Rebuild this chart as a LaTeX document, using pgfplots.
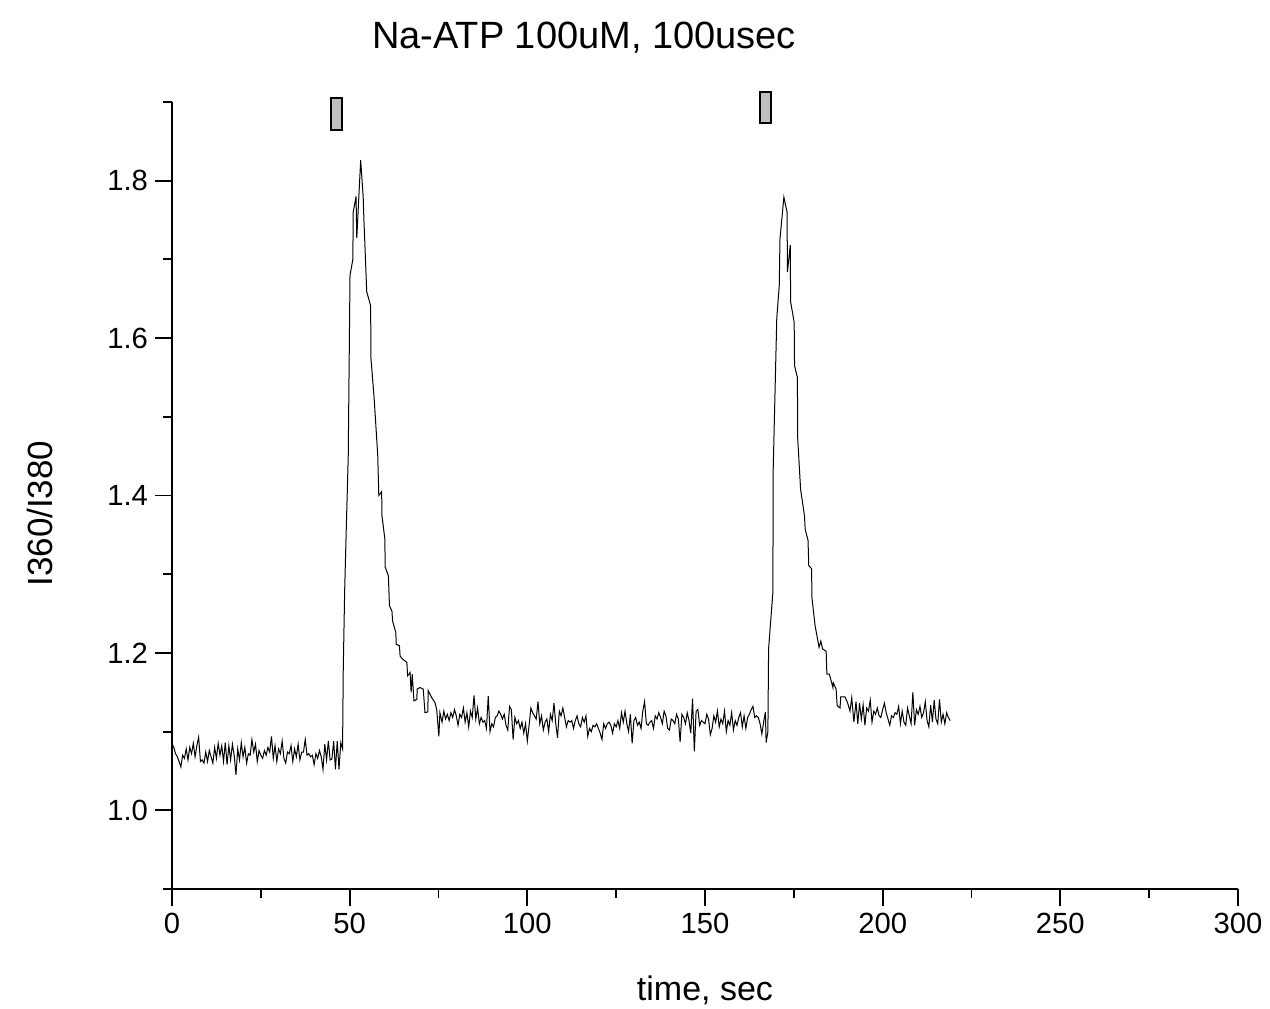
\documentclass[border=0pt]{standalone}
\usepackage{pgfplots}
\pgfplotsset{compat=1.18}
\usepackage{fontspec}
\setmainfont{Liberation Sans}
\begin{document}
\begin{tikzpicture}
\begin{axis}[
  at={(0,0)}, anchor=south west,
  scale only axis, width=533pt, height=393.5pt,
  xmin=0, xmax=300, ymin=0.9, ymax=1.9,
  axis x line*=bottom, axis y line*=left,
  axis line style={line width=0.9pt},
  every tick/.style={black, line width=0.9pt},
  tick align=outside,
  major tick length=8.5pt, minor tick length=4.5pt,
  xtick={0,50,...,300}, minor xtick={25,75,...,275},
  ytick={1.0,1.2,...,1.8}, minor ytick={0.9,1.1,1.3,1.5,1.7,1.9},
  /pgf/number format/assume math mode=true,
  yticklabel style={/pgf/number format/fixed, /pgf/number format/fixed zerofill, /pgf/number format/precision=1},
  tick label style={font=\fontsize{14.6}{17}\selectfont},
  xlabel={time, sec}, ylabel={I360/I380},
  xlabel style={font=\fontsize{17}{20}\selectfont, at={(rel axis cs:0.5,0)}, anchor=center, yshift=-50.5pt},
  ylabel style={font=\fontsize{17.5}{20}\selectfont, at={(rel axis cs:0,0.477)}, anchor=center, yshift=66pt},
  clip=false,
]
\addplot[black, line width=0.5pt] coordinates {
(0.0,1.085) (0.5,1.080) (1.0,1.072) (1.5,1.068) (2.0,1.062) (2.5,1.055) (3.0,1.070) (3.5,1.066) (4.0,1.078) (4.5,1.064)
(5.0,1.080) (5.5,1.072) (6.0,1.085) (6.5,1.068) (7.0,1.082) (7.5,1.093) (8.0,1.062) (8.5,1.064) (9.0,1.060) (9.5,1.074)
(10.0,1.062) (10.5,1.076) (11.0,1.068) (11.5,1.060) (12.0,1.080) (12.5,1.066) (13.0,1.085) (13.5,1.070) (14.0,1.082) (14.5,1.062)
(15.0,1.086) (15.5,1.058) (16.0,1.082) (16.5,1.064) (17.0,1.084) (17.5,1.070) (18.0,1.045) (18.5,1.078) (19.0,1.064) (19.5,1.086)
(20.0,1.068) (20.5,1.080) (21.0,1.060) (21.5,1.072) (22.0,1.070) (22.5,1.090) (23.0,1.074) (23.5,1.084) (24.0,1.062) (24.5,1.076)
(25.0,1.070) (25.5,1.066) (26.0,1.076) (26.5,1.070) (27.0,1.080) (27.5,1.074) (28.0,1.094) (28.5,1.066) (29.0,1.082) (29.5,1.062)
(30.0,1.078) (30.5,1.072) (31.0,1.088) (31.5,1.066) (32.0,1.060) (32.5,1.074) (33.0,1.072) (33.5,1.082) (34.0,1.062) (34.5,1.078)
(35.0,1.068) (35.5,1.084) (36.0,1.064) (36.5,1.074) (37.0,1.074) (37.5,1.090) (38.0,1.070) (38.5,1.072) (39.0,1.068) (39.5,1.070)
(40.0,1.058) (40.5,1.072) (41.0,1.066) (41.5,1.076) (42.0,1.068) (42.5,1.052) (43.0,1.084) (43.5,1.064) (44.0,1.088) (44.5,1.064)
(45.0,1.065) (45.5,1.088) (46.0,1.052) (46.5,1.088) (47.0,1.052) (47.5,1.086) (48.0,1.078)
(48.2,1.180) (48.6,1.280) (49.0,1.350) (49.6,1.450) (50.1,1.680) (50.9,1.700) (51.0,1.760) (51.8,1.780) (52.0,1.727)
(53.1,1.826) (53.8,1.780) (54.0,1.752) (54.8,1.659) (55.9,1.641) (56.0,1.574) (56.9,1.523) (57.9,1.451) (58.2,1.400)
(59.0,1.405) (59.1,1.374) (59.9,1.345) (60.0,1.309) (60.9,1.298) (61.2,1.260) (61.9,1.253) (62.1,1.240) (63.0,1.226)
(63.1,1.211) (64.0,1.209) (64.2,1.196) (64.9,1.192) (66.1,1.188) (66.3,1.171) (67.0,1.175) (67.3,1.150) (67.6,1.173)
(68.1,1.139) (68.9,1.141) (69.0,1.154) (69.8,1.156) (70.7,1.154) (71.2,1.124) (72.0,1.125) (72.1,1.152) (73.1,1.143)
(74.0,1.137) (74.5,1.128) (75.1,1.094) (75.4,1.124)
(76.0,1.112) (76.5,1.126) (77.0,1.116) (77.5,1.122) (78.0,1.114) (78.5,1.124) (79.0,1.118) (79.5,1.128)
(80.0,1.120) (80.5,1.108) (81.0,1.122) (81.5,1.118) (82.0,1.130) (82.5,1.112) (83.0,1.124) (83.5,1.106) (84.0,1.126) (84.5,1.118)
(85.0,1.146) (85.5,1.116) (86.0,1.130) (86.5,1.110) (87.0,1.118) (87.5,1.112) (88.0,1.114) (88.5,1.104) (89.0,1.145) (89.5,1.100)
(90.0,1.110) (90.5,1.106) (91.0,1.118) (91.5,1.120) (92.0,1.126) (92.5,1.122) (93.0,1.116) (93.5,1.122) (94.0,1.108) (94.5,1.102)
(95.0,1.132) (95.5,1.128) (96.0,1.090) (96.5,1.118) (97.0,1.110) (97.5,1.114) (98.0,1.104) (98.5,1.112) (99.0,1.098) (99.5,1.110)
(100.0,1.088) (100.5,1.108) (101.0,1.130) (101.5,1.124) (102.0,1.120) (102.5,1.116) (103.0,1.138) (103.5,1.110) (104.0,1.120) (104.5,1.102)
(105.0,1.112) (105.5,1.116) (106.0,1.100) (106.5,1.122) (107.0,1.114) (107.5,1.136) (108.0,1.110) (108.5,1.092) (109.0,1.126) (109.5,1.120)
(110.0,1.130) (110.5,1.118) (111.0,1.106) (111.5,1.114) (112.0,1.112) (112.5,1.114) (113.0,1.104) (113.5,1.114) (114.0,1.120) (114.5,1.110)
(115.0,1.106) (115.5,1.118) (116.0,1.112) (116.5,1.120) (117.0,1.094) (117.5,1.104) (118.0,1.100) (118.5,1.108) (119.0,1.106) (119.5,1.110)
(120.0,1.104) (120.5,1.098) (121.0,1.090) (121.5,1.110) (122.0,1.104) (122.5,1.110) (123.0,1.112) (123.5,1.108) (124.0,1.098) (124.5,1.110)
(125.0,1.106) (125.5,1.114) (126.0,1.104) (126.5,1.124) (127.0,1.112) (127.5,1.126) (128.0,1.110) (128.5,1.100) (129.0,1.122) (129.5,1.085)
(130.0,1.114) (130.5,1.118) (131.0,1.108) (131.5,1.112) (132.0,1.104) (132.5,1.126) (133.0,1.138) (133.5,1.110) (134.0,1.108) (134.5,1.112)
(135.0,1.114) (135.5,1.104) (136.0,1.120) (136.5,1.116) (137.0,1.124) (137.5,1.118) (138.0,1.110) (138.5,1.126) (139.0,1.120) (139.5,1.104)
(140.0,1.102) (140.5,1.116) (141.0,1.114) (141.5,1.110) (142.0,1.122) (142.5,1.116) (143.0,1.087) (143.5,1.122) (144.0,1.118) (144.5,1.110)
(145.0,1.124) (145.5,1.114) (146.0,1.098) (146.5,1.142) (147.0,1.075) (147.5,1.126) (148.0,1.128) (148.5,1.108) (149.0,1.114) (149.5,1.112)
(150.0,1.110) (150.5,1.122) (151.0,1.116) (151.5,1.096) (152.0,1.104) (152.5,1.120) (153.0,1.112) (153.5,1.126) (154.0,1.106) (154.5,1.116)
(155.0,1.110) (155.5,1.126) (156.0,1.100) (156.5,1.114) (157.0,1.108) (157.5,1.124) (158.0,1.102) (158.5,1.114) (159.0,1.108) (159.5,1.118)
(160.0,1.124) (160.5,1.106) (161.0,1.120) (161.5,1.104) (162.0,1.118) (162.5,1.122) (163.0,1.128) (163.5,1.132) (164.0,1.118) (164.5,1.120)
(165.0,1.118) (165.5,1.110) (166.0,1.097) (166.5,1.112) (167.0,1.125) (167.2,1.086) (167.7,1.100)
(167.9,1.205) (169.1,1.277) (169.2,1.434) (170.0,1.587) (170.2,1.625) (170.9,1.667) (171.1,1.726) (172.2,1.779)
(173.1,1.760) (173.2,1.684) (174.0,1.718) (174.1,1.646) (175.1,1.620) (175.2,1.565) (176.0,1.550) (176.1,1.472)
(176.9,1.408) (178.0,1.374) (178.2,1.357) (179.0,1.343) (179.2,1.311) (180.0,1.307) (180.1,1.270) (181.0,1.234)
(181.5,1.222) (182.1,1.207) (182.6,1.215) (183.1,1.205) (184.1,1.202) (184.3,1.173) (185.0,1.173) (186.0,1.156)
(186.1,1.162) (186.9,1.154) (187.2,1.133) (188.0,1.130) (188.2,1.144) (189.4,1.144) (190.1,1.137) (190.8,1.126)
(191.3,1.143) (191.9,1.112)
(192.5,1.138) (193.0,1.110) (193.5,1.136) (194.0,1.116) (194.5,1.134) (195.0,1.108) (195.5,1.130) (196.0,1.126) (196.5,1.140) (197.0,1.112)
(197.5,1.126) (198.0,1.122) (198.5,1.130) (199.0,1.120) (199.5,1.118) (200.0,1.128) (200.5,1.136) (201.0,1.124) (201.5,1.116) (202.0,1.108)
(202.5,1.120) (203.0,1.118) (203.5,1.124) (204.0,1.122) (204.5,1.132) (205.0,1.110) (205.5,1.126) (206.0,1.112) (206.5,1.108) (207.0,1.130)
(207.5,1.120) (208.0,1.110) (208.5,1.150) (209.0,1.108) (209.5,1.128) (210.0,1.122) (210.5,1.132) (211.0,1.118) (211.5,1.124) (212.0,1.138)
(212.5,1.114) (213.0,1.106) (213.5,1.134) (214.0,1.112) (214.5,1.140) (215.0,1.116) (215.5,1.110) (216.0,1.141) (216.5,1.112) (217.0,1.122)
(217.5,1.110) (218.0,1.124) (218.5,1.118) (219.0,1.114)
};
\addplot[draw=black, fill=black!25, line width=0.9pt] coordinates {(44.75,1.8643) (47.85,1.8643) (47.85,1.9046) (44.75,1.9046)} -- cycle;
\addplot[draw=black, fill=black!25, line width=0.9pt] coordinates {(165.5,1.873) (168.6,1.873) (168.6,1.913) (165.5,1.913)} -- cycle;
\node[font=\fontsize{19}{22}\selectfont, anchor=center] at (rel axis cs:0.3865,1) [yshift=32pt] {Na-ATP 100uM, 100usec};
\end{axis}
\pgfresetboundingbox
\path[use as bounding box] (-86pt,-59.5pt) rectangle (549pt,444.5pt);
\end{tikzpicture}
\end{document}
